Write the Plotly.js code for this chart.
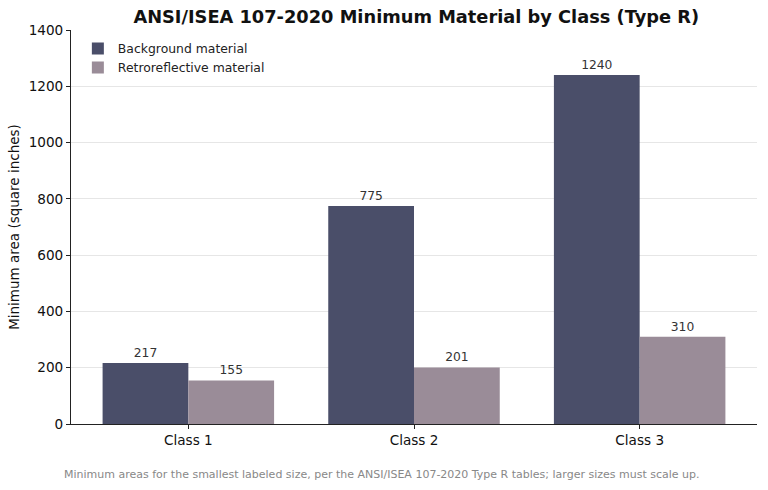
<!DOCTYPE html>
<html>
<head>
<meta charset="utf-8">
<script src="https://cdn.plot.ly/plotly-3.0.1.min.js"></script>
<style>
  html, body {margin:0; padding:0; background:#fff;}
  #chart {width:768px; height:490px;}
</style>
</head>
<body>
<div id="chart"></div>
<script>
// data
var classes = ['Class 1', 'Class 2', 'Class 3']
var background = [217, 775, 1240]
var retro = [155, 201, 310]
var yTicks = [0, 200, 400, 600, 800, 1000, 1200, 1400]

var font = 'DejaVu Sans, sans-serif'

var traces = [
    {
        type: 'bar',
        name: 'Background material',
        x: classes,
        y: background,
        marker: {color: '#4a4e69'},
        text: background.map(String),
        textposition: 'outside',
        textfont: {family: font, size: 12.3, color: '#333'},
        cliponaxis: false,
        hoverinfo: 'x+y',
    },
    {
        type: 'bar',
        name: 'Retroreflective material',
        x: classes,
        y: retro,
        marker: {color: '#9a8c98'},
        text: retro.map(String),
        textposition: 'outside',
        textfont: {family: font, size: 12.3, color: '#333'},
        cliponaxis: false,
        hoverinfo: 'x+y',
    },
]

var layout = {
    width: 768,
    height: 490,
    font: {family: font, size: 13, color: '#111'},
    paper_bgcolor: '#fff',
    plot_bgcolor: '#fff',
    barmode: 'group',
    bargap: 0.24,
    bargroupgap: 0,
    margin: {l: 71, r: 11, t: 30, b: 66},
    title: {
        text: '<b>ANSI/ISEA 107-2020 Minimum Material by Class (Type R)</b>',
        font: {family: font, size: 17.8, color: '#111'},
        x: 0.542, xanchor: 'center',
        y: 0.965, yanchor: 'middle',
    },
    xaxis: {
        range: [-0.52, 2.52],
        showline: true,
        linecolor: '#222',
        linewidth: 1,
        ticks: 'outside',
        ticklen: 4,
        tickcolor: '#222',
        tickfont: {family: font, size: 13.6, color: '#111'},
        showgrid: false,
        zeroline: false,
        fixedrange: true,
    },
    yaxis: {
        range: [0, 1400],
        tickvals: yTicks,
        showline: true,
        linecolor: '#222',
        linewidth: 1,
        ticks: 'outside',
        ticklen: 4,
        tickcolor: '#222',
        tickfont: {family: font, size: 13.6, color: '#111'},
        gridcolor: '#e6e6e6',
        gridwidth: 1,
        zeroline: false,
        title: {text: 'Minimum area (square inches)', font: {family: font, size: 13.5, color: '#111'}, standoff: 5},
        fixedrange: true,
    },
    legend: {
        x: 0.01, xanchor: 'left',
        y: 0.99, yanchor: 'top',
        bgcolor: 'rgba(255,255,255,0)',
        font: {family: font, size: 12.4, color: '#222'},
        tracegroupgap: 2,
    },
    showlegend: true,
    annotations: [{
        text: 'Minimum areas for the smallest labeled size, per the ANSI/ISEA 107-2020 Type R tables; larger sizes must scale up.',
        xref: 'paper', yref: 'paper',
        x: 0.454, xanchor: 'center',
        y: -0.127, yanchor: 'middle',
        showarrow: false,
        font: {family: font, size: 11, color: '#888'},
    }],
}

Plotly.newPlot('chart', traces, layout, {displayModeBar: false, staticPlot: true})
</script>
</body>
</html>
